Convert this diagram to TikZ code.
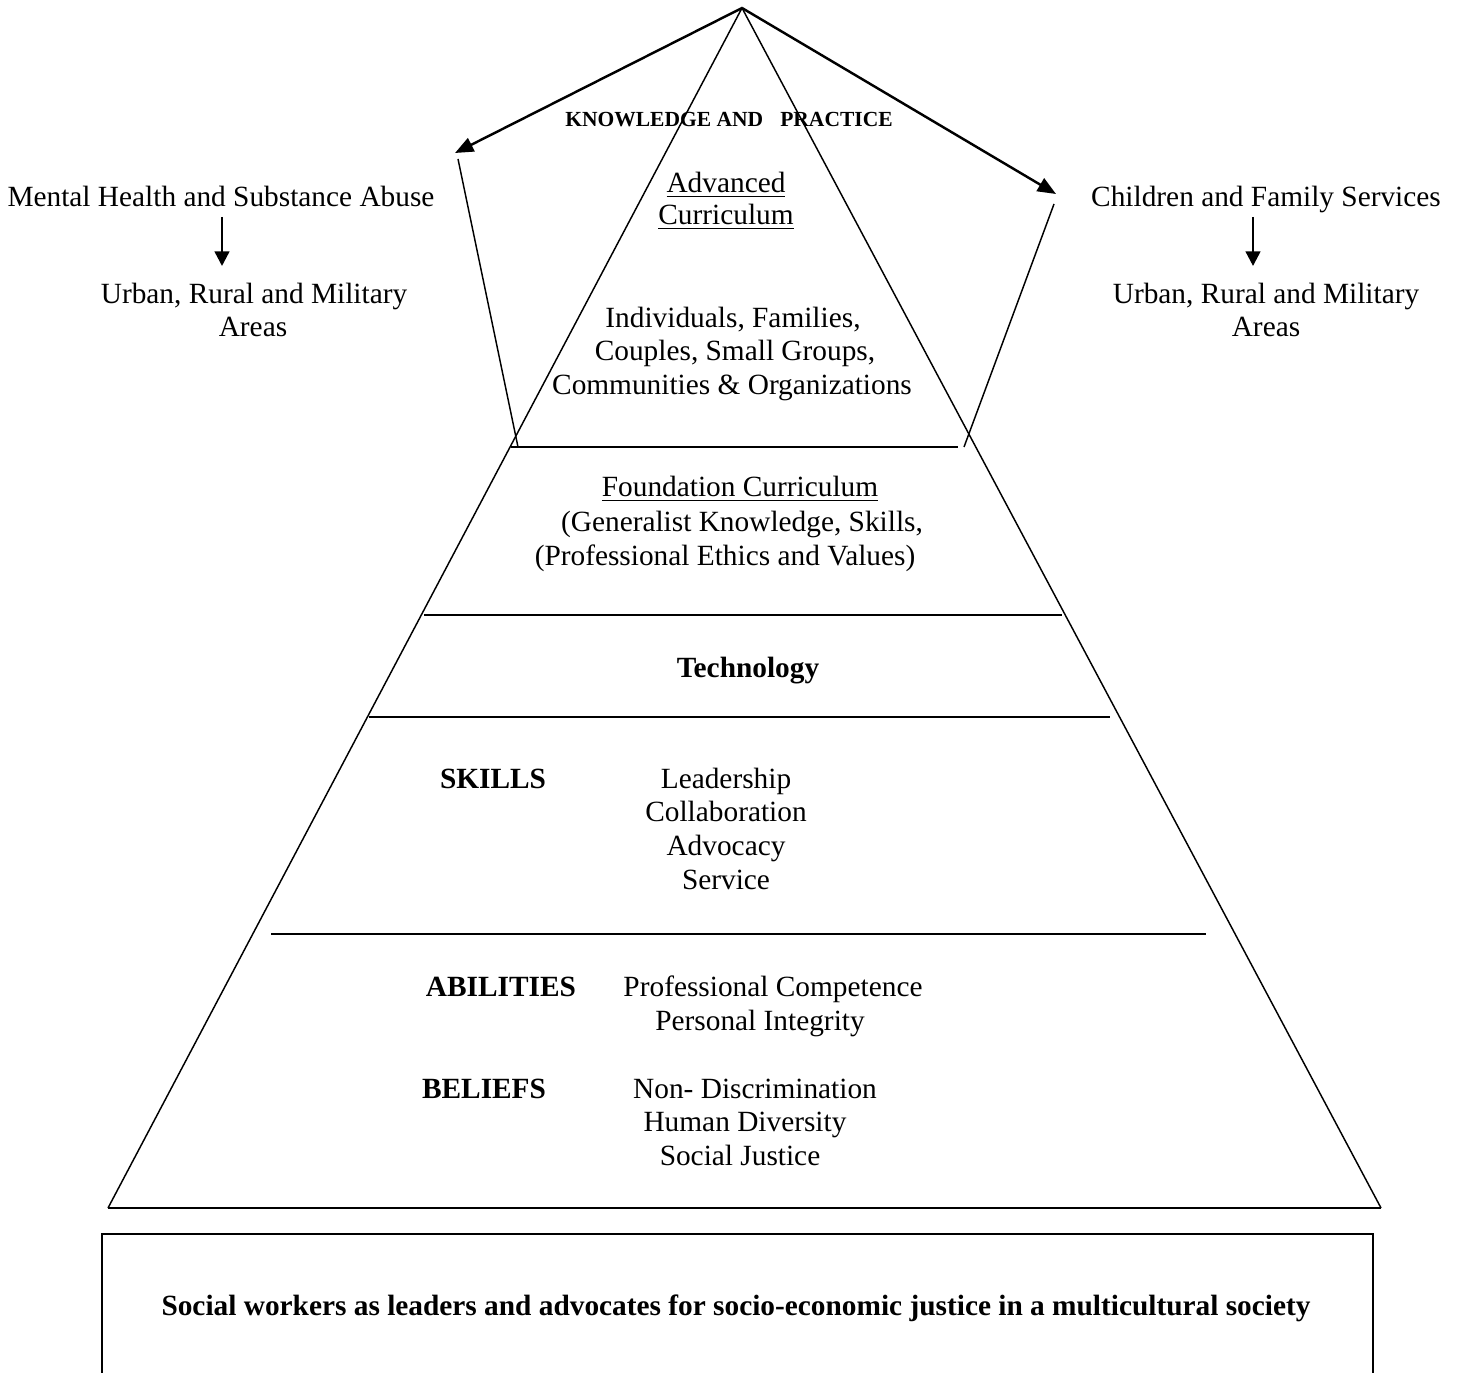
\documentclass[tikz,border=0pt]{standalone}
\usepackage{fontspec}
\setmainfont{Liberation Serif}
\usetikzlibrary{arrows.meta}
\begin{document}
\begin{tikzpicture}[x=0.409pt,y=-0.409pt,
  txt/.style={anchor=base,inner sep=0pt,font=\fontsize{12}{13.8}\selectfont},
  btxt/.style={anchor=base,inner sep=0pt,font=\fontsize{12}{13.8}\selectfont\bfseries},
  side/.style={line width=0.6pt},
  hline/.style={line width=0.8pt},
  bigarrow/.style={line width=1pt,-{Triangle[length=7.5pt,width=6pt]}},
  downarrow/.style={line width=1pt,-{Triangle[length=6pt,width=6pt]}}]
\useasboundingbox (0,0) rectangle (1460,1373);
\clip (0,0) rectangle (1460,1373);
% pyramid
\coordinate (apex) at (742,8);
\coordinate (bl) at (108,1208);
\coordinate (br) at (1381,1208);
\draw[side] (bl) -- (apex) -- (br);
\draw[hline] (bl) -- (br);
% layer lines
\coordinate (l1a) at (511,447);  \coordinate (l1b) at (958,447);
\coordinate (l2a) at (424,615);  \coordinate (l2b) at (1062,615);
\coordinate (l3a) at (369,717);  \coordinate (l3b) at (1110,717);
\coordinate (l4a) at (271,934);  \coordinate (l4b) at (1206,934);
\draw[hline] (l1a) -- (l1b);
\draw[hline] (l2a) -- (l2b);
\draw[hline] (l3a) -- (l3b);
\draw[hline] (l4a) -- (l4b);
% pentagon arrows
\coordinate (ltip) at (455,153);
\coordinate (rtip) at (1056,194);
\draw[bigarrow] (apex) -- (ltip);
\draw[bigarrow] (apex) -- (rtip);
\coordinate (lpa) at (458,159); \coordinate (lpb) at (518,447);
\coordinate (rpa) at (1054,204); \coordinate (rpb) at (964,447);
\draw[side] (lpa) -- (lpb);
\draw[side] (rpa) -- (rpb);
% bottom box
\coordinate (b1) at (102,1400); \coordinate (b2) at (102,1234);
\coordinate (b3) at (1373,1234); \coordinate (b4) at (1373,1400);
\draw[hline] (b1) -- (b2) -- (b3) -- (b4);
% side texts
\node[txt] (mh) at (221,207) {Mental Health and Substance Abuse};
\node[txt] (urb1) at (254,304) {Urban, Rural and Military};
\node[txt] (ar1) at (253,337) {Areas};
\coordinate (da1) at (222,217); \coordinate (db1) at (222,266);
\draw[downarrow] (da1) -- (db1);
\node[txt] (cf) at (1266,207) {Children and Family Services};
\node[txt] (urb2) at (1266,304) {Urban, Rural and Military};
\node[txt] (ar2) at (1266,337) {Areas};
\coordinate (da2) at (1253,217); \coordinate (db2) at (1253,266);
\draw[downarrow] (da2) -- (db2);
% top
\node[anchor=base,inner sep=0pt,font=\fontsize{8.8}{10}\selectfont\bfseries] (kp) at (729,127) {KNOWLEDGE AND\hspace{7pt}PRACTICE};
\node[txt] (adv1) at (726,193) {\underline{Advanced}};
\node[txt] (adv2) at (726,225) {\underline{Curriculum}};
\node[txt] (ind1) at (733,328) {Individuals, Families,};
\node[txt] (ind2) at (735,361) {Couples, Small Groups,};
\node[txt] (ind3) at (732,395) {Communities \& Organizations};
% foundation
\node[txt] (fc1) at (740,497) {\underline{Foundation Curriculum}};
\node[txt] (fc2) at (742,531) {(Generalist Knowledge, Skills,};
\node[txt] (fc3) at (725,565) {(Professional Ethics and Values)};
% technology
\node[btxt] (tech) at (748,677) {Technology};
% skills
\node[btxt] (sk) at (493,788) {SKILLS};
\node[txt] (s1) at (726,788) {Leadership};
\node[txt] (s2) at (726,821) {Collaboration};
\node[txt] (s3) at (726,855) {Advocacy};
\node[txt] (s4) at (726,889) {Service};
% abilities
\node[btxt] (ab) at (501,996) {ABILITIES};
\node[txt] (a1) at (773,996) {Professional Competence};
\node[txt] (a2) at (760,1030) {Personal Integrity};
% beliefs
\node[btxt] (be) at (484,1098) {BELIEFS};
\node[txt] (bb1) at (755,1098) {Non- Discrimination};
\node[txt] (bb2) at (745,1131) {Human Diversity};
\node[txt] (bb3) at (740,1165) {Social Justice};
% bottom text
\node[btxt] (sw) at (736,1315) {Social workers as leaders and advocates for socio-economic justice in a multicultural society};
\end{tikzpicture}
\end{document}
